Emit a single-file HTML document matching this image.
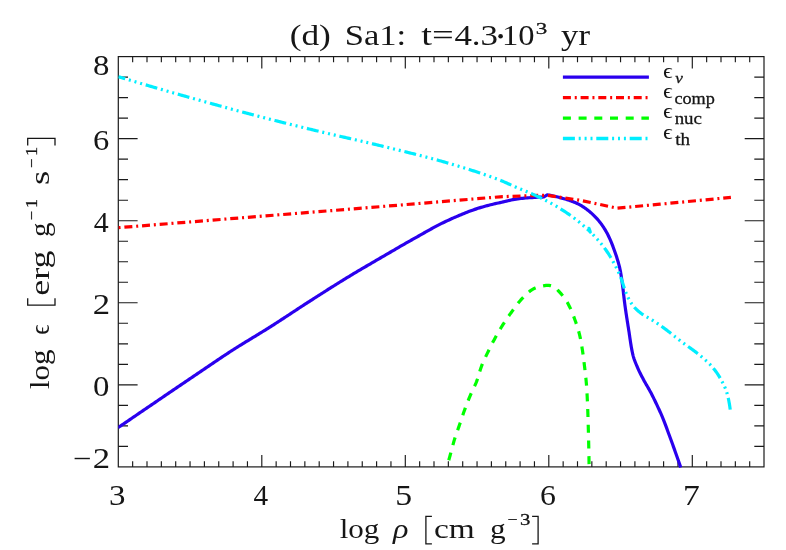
<!DOCTYPE html>
<html><head><meta charset="utf-8"><title>chart</title>
<style>
html,body{margin:0;padding:0;background:#fff;}
body{width:786px;height:550px;overflow:hidden;}
svg{display:block;will-change:transform;}
text{font-family:"Liberation Serif",serif;fill:#161616;}
</style></head><body>
<svg width="786" height="550" viewBox="0 0 786 550">
<rect x="0" y="0" width="786" height="550" fill="#ffffff"/>
<defs><clipPath id="clip"><rect x="118.30" y="56.60" width="645.70" height="411.80"/></clipPath></defs>

<path d="M132.65 466.90 v-5.60 M132.65 56.60 v5.60 M147.00 466.90 v-5.60 M147.00 56.60 v5.60 M161.35 466.90 v-5.60 M161.35 56.60 v5.60 M175.70 466.90 v-5.60 M175.70 56.60 v5.60 M190.05 466.90 v-5.60 M190.05 56.60 v5.60 M204.40 466.90 v-5.60 M204.40 56.60 v5.60 M218.75 466.90 v-5.60 M218.75 56.60 v5.60 M233.10 466.90 v-5.60 M233.10 56.60 v5.60 M247.45 466.90 v-5.60 M247.45 56.60 v5.60 M261.80 466.90 v-12.00 M261.80 56.60 v12.00 M276.15 466.90 v-5.60 M276.15 56.60 v5.60 M290.50 466.90 v-5.60 M290.50 56.60 v5.60 M304.85 466.90 v-5.60 M304.85 56.60 v5.60 M319.20 466.90 v-5.60 M319.20 56.60 v5.60 M333.55 466.90 v-5.60 M333.55 56.60 v5.60 M347.90 466.90 v-5.60 M347.90 56.60 v5.60 M362.25 466.90 v-5.60 M362.25 56.60 v5.60 M376.60 466.90 v-5.60 M376.60 56.60 v5.60 M390.95 466.90 v-5.60 M390.95 56.60 v5.60 M405.30 466.90 v-12.00 M405.30 56.60 v12.00 M419.65 466.90 v-5.60 M419.65 56.60 v5.60 M434.00 466.90 v-5.60 M434.00 56.60 v5.60 M448.35 466.90 v-5.60 M448.35 56.60 v5.60 M462.70 466.90 v-5.60 M462.70 56.60 v5.60 M477.05 466.90 v-5.60 M477.05 56.60 v5.60 M491.40 466.90 v-5.60 M491.40 56.60 v5.60 M505.75 466.90 v-5.60 M505.75 56.60 v5.60 M520.10 466.90 v-5.60 M520.10 56.60 v5.60 M534.45 466.90 v-5.60 M534.45 56.60 v5.60 M548.80 466.90 v-12.00 M548.80 56.60 v12.00 M563.15 466.90 v-5.60 M563.15 56.60 v5.60 M577.50 466.90 v-5.60 M577.50 56.60 v5.60 M591.85 466.90 v-5.60 M591.85 56.60 v5.60 M606.20 466.90 v-5.60 M606.20 56.60 v5.60 M620.55 466.90 v-5.60 M620.55 56.60 v5.60 M634.90 466.90 v-5.60 M634.90 56.60 v5.60 M649.25 466.90 v-5.60 M649.25 56.60 v5.60 M663.60 466.90 v-5.60 M663.60 56.60 v5.60 M677.95 466.90 v-5.60 M677.95 56.60 v5.60 M692.30 466.90 v-12.00 M692.30 56.60 v12.00 M706.65 466.90 v-5.60 M706.65 56.60 v5.60 M721.00 466.90 v-5.60 M721.00 56.60 v5.60 M735.35 466.90 v-5.60 M735.35 56.60 v5.60 M749.70 466.90 v-5.60 M749.70 56.60 v5.60 M118.30 446.38 h9.70 M764.00 446.38 h-9.70 M118.30 425.87 h9.70 M764.00 425.87 h-9.70 M118.30 405.35 h9.70 M764.00 405.35 h-9.70 M118.30 384.84 h19.30 M764.00 384.84 h-19.30 M118.30 364.32 h9.70 M764.00 364.32 h-9.70 M118.30 343.81 h9.70 M764.00 343.81 h-9.70 M118.30 323.29 h9.70 M764.00 323.29 h-9.70 M118.30 302.78 h19.30 M764.00 302.78 h-19.30 M118.30 282.26 h9.70 M764.00 282.26 h-9.70 M118.30 261.75 h9.70 M764.00 261.75 h-9.70 M118.30 241.23 h9.70 M764.00 241.23 h-9.70 M118.30 220.72 h19.30 M764.00 220.72 h-19.30 M118.30 200.20 h9.70 M764.00 200.20 h-9.70 M118.30 179.69 h9.70 M764.00 179.69 h-9.70 M118.30 159.17 h9.70 M764.00 159.17 h-9.70 M118.30 138.66 h19.30 M764.00 138.66 h-19.30 M118.30 118.14 h9.70 M764.00 118.14 h-9.70 M118.30 97.63 h9.70 M764.00 97.63 h-9.70 M118.30 77.11 h9.70 M764.00 77.11 h-9.70" stroke="#1a1a1a" stroke-width="1.15" fill="none"/>
<rect x="118.30" y="56.60" width="645.70" height="410.30" fill="none" stroke="#1a1a1a" stroke-width="1.2"/>
<g clip-path="url(#clip)" fill="none" stroke-width="3.2" stroke-linejoin="round">
<path d="M118.00 427.70 L119.35 426.78 L120.70 425.85 L122.05 424.93 L123.40 424.01 L124.76 423.08 L126.11 422.16 L127.46 421.24 L128.81 420.32 L130.16 419.39 L131.51 418.47 L132.86 417.55 L134.22 416.63 L135.57 415.71 L136.92 414.78 L138.27 413.86 L139.62 412.94 L140.98 412.02 L142.33 411.10 L143.68 410.18 L145.03 409.25 L146.39 408.33 L147.74 407.41 L149.09 406.49 L150.44 405.57 L151.80 404.65 L153.15 403.73 L154.50 402.81 L155.85 401.89 L157.21 400.97 L158.56 400.05 L159.91 399.13 L161.26 398.21 L162.62 397.28 L163.97 396.36 L165.32 395.44 L166.68 394.52 L168.03 393.60 L169.38 392.68 L170.74 391.76 L172.09 390.84 L173.44 389.92 L174.80 389.00 L176.15 388.09 L177.50 387.17 L178.86 386.25 L180.21 385.33 L181.57 384.41 L182.92 383.49 L184.28 382.57 L185.63 381.66 L186.99 380.74 L188.34 379.82 L189.70 378.91 L191.05 377.99 L192.41 377.08 L193.77 376.16 L195.12 375.25 L196.48 374.33 L197.83 373.41 L199.19 372.49 L200.54 371.57 L201.90 370.66 L203.25 369.74 L204.60 368.82 L205.96 367.90 L207.31 366.98 L208.67 366.06 L210.02 365.14 L211.37 364.22 L212.73 363.30 L214.09 362.39 L215.44 361.47 L216.80 360.56 L218.16 359.64 L219.52 358.73 L220.88 357.82 L222.24 356.92 L223.60 356.01 L224.97 355.11 L226.33 354.21 L227.70 353.31 L229.07 352.42 L230.44 351.53 L231.82 350.64 L233.19 349.76 L234.57 348.88 L235.95 348.00 L237.34 347.13 L238.72 346.26 L240.11 345.39 L241.50 344.53 L242.90 343.67 L244.29 342.82 L245.68 341.96 L247.08 341.11 L248.48 340.26 L249.88 339.41 L251.28 338.55 L252.67 337.70 L254.07 336.86 L255.47 336.01 L256.87 335.15 L258.27 334.30 L259.67 333.45 L261.06 332.60 L262.46 331.74 L263.85 330.88 L265.24 330.02 L266.63 329.16 L268.02 328.29 L269.40 327.42 L270.79 326.55 L272.17 325.67 L273.55 324.79 L274.92 323.90 L276.30 323.02 L277.67 322.13 L279.05 321.24 L280.42 320.35 L281.79 319.45 L283.16 318.56 L284.53 317.66 L285.90 316.77 L287.26 315.87 L288.63 314.97 L290.00 314.07 L291.37 313.17 L292.73 312.27 L294.10 311.37 L295.47 310.47 L296.84 309.57 L298.20 308.68 L299.57 307.78 L300.94 306.89 L302.31 305.99 L303.69 305.10 L305.06 304.21 L306.43 303.32 L307.81 302.44 L309.19 301.55 L310.56 300.67 L311.94 299.79 L313.32 298.90 L314.70 298.02 L316.08 297.14 L317.45 296.26 L318.83 295.37 L320.21 294.49 L321.59 293.61 L322.97 292.73 L324.35 291.85 L325.73 290.98 L327.11 290.10 L328.50 289.22 L329.88 288.35 L331.26 287.47 L332.65 286.60 L334.03 285.73 L335.42 284.86 L336.81 283.99 L338.19 283.13 L339.58 282.26 L340.97 281.40 L342.37 280.54 L343.76 279.68 L345.15 278.83 L346.55 277.97 L347.95 277.12 L349.35 276.28 L350.75 275.43 L352.15 274.59 L353.55 273.74 L354.95 272.90 L356.36 272.07 L357.77 271.23 L359.17 270.40 L360.58 269.56 L361.99 268.73 L363.40 267.90 L364.81 267.08 L366.23 266.25 L367.64 265.42 L369.05 264.60 L370.47 263.77 L371.88 262.95 L373.29 262.12 L374.71 261.30 L376.12 260.48 L377.54 259.66 L378.95 258.83 L380.37 258.01 L381.78 257.19 L383.20 256.37 L384.61 255.54 L386.03 254.72 L387.44 253.89 L388.85 253.07 L390.27 252.25 L391.68 251.42 L393.09 250.60 L394.51 249.77 L395.92 248.95 L397.34 248.12 L398.75 247.30 L400.17 246.48 L401.58 245.66 L403.00 244.85 L404.42 244.03 L405.84 243.22 L407.26 242.41 L408.68 241.60 L410.11 240.79 L411.53 239.99 L412.96 239.19 L414.39 238.39 L415.82 237.59 L417.24 236.78 L418.67 235.98 L420.09 235.17 L421.52 234.36 L422.95 233.55 L424.37 232.74 L425.80 231.93 L427.23 231.13 L428.66 230.33 L430.09 229.53 L431.53 228.74 L432.97 227.95 L434.41 227.17 L435.85 226.40 L437.30 225.64 L438.75 224.89 L440.20 224.14 L441.66 223.41 L443.13 222.69 L444.60 221.98 L446.07 221.29 L447.55 220.61 L449.03 219.93 L450.52 219.26 L452.01 218.58 L453.51 217.91 L455.01 217.25 L456.51 216.59 L458.02 215.94 L459.53 215.30 L461.04 214.66 L462.56 214.03 L464.08 213.41 L465.61 212.80 L467.14 212.20 L468.67 211.61 L470.20 211.03 L471.74 210.47 L473.28 209.92 L474.82 209.38 L476.37 208.86 L477.92 208.35 L479.47 207.86 L481.03 207.39 L482.59 206.93 L484.16 206.48 L485.74 206.05 L487.32 205.63 L488.91 205.22 L490.50 204.82 L492.09 204.43 L493.69 204.05 L495.29 203.68 L496.88 203.31 L498.48 202.94 L500.08 202.58 L501.67 202.22 L503.27 201.84 L504.86 201.47 L506.46 201.09 L508.06 200.72 L509.66 200.35 L511.27 200.01 L512.87 199.67 L514.48 199.37 L516.09 199.08 L517.70 198.83 L519.32 198.62 L520.94 198.45 L522.56 198.29 L524.18 198.14 L525.81 198.00 L527.44 197.87 L529.08 197.75 L530.71 197.63 L532.35 197.53 L533.98 197.43 L535.62 197.34 L537.26 197.25 L538.89 197.18 L540.53 197.11 L542.16 197.05 L543.80 197.00 L547.20 194.80 L548.26 194.99 L549.32 195.18 L550.38 195.39 L551.44 195.60 L552.49 195.82 L553.54 196.05 L554.59 196.29 L555.64 196.53 L556.68 196.79 L557.73 197.04 L558.77 197.31 L559.80 197.58 L560.84 197.86 L561.87 198.14 L562.91 198.43 L563.95 198.72 L564.99 199.03 L566.03 199.34 L567.07 199.66 L568.11 199.99 L569.14 200.33 L570.17 200.68 L571.19 201.04 L572.20 201.41 L573.21 201.80 L574.20 202.19 L575.18 202.60 L576.15 203.02 L577.11 203.46 L578.05 203.91 L578.99 204.40 L579.92 204.90 L580.85 205.43 L581.78 205.99 L582.70 206.56 L583.62 207.15 L584.52 207.77 L585.42 208.40 L586.31 209.04 L587.19 209.70 L588.06 210.37 L588.91 211.06 L589.75 211.75 L590.58 212.45 L591.39 213.16 L592.18 213.87 L592.96 214.59 L593.71 215.31 L594.46 216.04 L595.20 216.80 L595.93 217.57 L596.66 218.36 L597.38 219.17 L598.08 219.99 L598.78 220.82 L599.47 221.67 L600.15 222.53 L600.81 223.40 L601.46 224.28 L602.10 225.17 L602.72 226.06 L603.33 226.96 L603.93 227.87 L604.50 228.77 L605.07 229.68 L605.61 230.60 L606.13 231.51 L606.65 232.43 L607.15 233.37 L607.64 234.31 L608.12 235.27 L608.59 236.24 L609.06 237.21 L609.51 238.19 L609.95 239.18 L610.39 240.17 L610.81 241.17 L611.23 242.17 L611.64 243.18 L612.04 244.18 L612.43 245.19 L612.82 246.20 L613.20 247.21 L613.57 248.22 L613.94 249.23 L614.30 250.23 L614.66 251.24 L615.02 252.26 L615.37 253.27 L615.72 254.29 L616.07 255.31 L616.41 256.33 L616.75 257.36 L617.08 258.39 L617.40 259.42 L617.72 260.45 L618.02 261.48 L618.32 262.52 L618.61 263.56 L618.89 264.60 L619.16 265.64 L619.42 266.68 L619.67 267.72 L619.90 268.77 L620.12 269.81 L620.33 270.86 L620.53 271.91 L620.72 272.97 L620.90 274.03 L621.08 275.09 L621.25 276.16 L621.41 277.22 L621.57 278.29 L621.72 279.35 L621.88 280.42 L622.03 281.48 L622.18 282.55 L622.32 283.61 L622.46 284.68 L622.60 285.74 L622.74 286.81 L622.87 287.87 L622.99 288.94 L623.12 290.01 L623.25 291.08 L623.37 292.15 L623.49 293.21 L623.61 294.28 L623.73 295.35 L623.86 296.42 L623.98 297.49 L624.11 298.55 L624.23 299.62 L624.36 300.69 L624.49 301.76 L624.63 302.82 L624.77 303.89 L624.91 304.95 L625.05 306.02 L625.20 307.08 L625.35 308.15 L625.50 309.21 L625.65 310.27 L625.81 311.34 L625.97 312.40 L626.12 313.46 L626.28 314.53 L626.45 315.59 L626.61 316.65 L626.77 317.71 L626.94 318.78 L627.10 319.84 L627.27 320.90 L627.44 321.96 L627.60 323.03 L627.77 324.09 L627.94 325.15 L628.11 326.21 L628.28 327.27 L628.45 328.33 L628.62 329.39 L628.79 330.46 L628.95 331.52 L629.12 332.58 L629.28 333.65 L629.43 334.72 L629.59 335.79 L629.74 336.85 L629.90 337.92 L630.05 338.99 L630.21 340.06 L630.37 341.13 L630.53 342.20 L630.70 343.26 L630.86 344.33 L631.04 345.39 L631.22 346.45 L631.40 347.51 L631.59 348.56 L631.79 349.62 L631.99 350.67 L632.21 351.71 L632.43 352.76 L632.66 353.80 L632.91 354.83 L633.17 355.86 L633.46 356.89 L633.78 357.91 L634.11 358.94 L634.47 359.95 L634.84 360.97 L635.22 361.98 L635.62 362.99 L636.03 363.99 L636.44 364.99 L636.85 365.98 L637.26 366.97 L637.68 367.96 L638.11 368.94 L638.56 369.92 L639.01 370.89 L639.48 371.86 L639.96 372.82 L640.44 373.78 L640.94 374.74 L641.43 375.70 L641.93 376.65 L642.44 377.60 L642.94 378.55 L643.44 379.50 L643.95 380.45 L644.46 381.39 L644.99 382.33 L645.52 383.27 L646.05 384.20 L646.59 385.13 L647.13 386.06 L647.68 386.99 L648.22 387.92 L648.75 388.85 L649.28 389.79 L649.80 390.73 L650.32 391.67 L650.82 392.62 L651.32 393.57 L651.81 394.52 L652.30 395.48 L652.79 396.44 L653.27 397.40 L653.75 398.37 L654.22 399.33 L654.69 400.30 L655.16 401.26 L655.63 402.23 L656.09 403.20 L656.55 404.17 L657.01 405.15 L657.47 406.12 L657.92 407.09 L658.38 408.07 L658.83 409.04 L659.28 410.02 L659.73 411.00 L660.17 411.98 L660.61 412.96 L661.04 413.94 L661.47 414.93 L661.89 415.92 L662.30 416.91 L662.71 417.90 L663.12 418.90 L663.52 419.89 L663.91 420.89 L664.30 421.89 L664.69 422.89 L665.07 423.90 L665.46 424.90 L665.84 425.91 L666.21 426.92 L666.59 427.93 L666.96 428.93 L667.33 429.94 L667.70 430.95 L668.07 431.96 L668.44 432.97 L668.81 433.98 L669.19 434.99 L669.56 436.00 L669.93 437.01 L670.30 438.02 L670.67 439.02 L671.04 440.03 L671.41 441.04 L671.77 442.05 L672.14 443.06 L672.51 444.07 L672.87 445.09 L673.24 446.10 L673.60 447.11 L673.96 448.12 L674.33 449.13 L674.69 450.14 L675.05 451.16 L675.41 452.17 L675.77 453.18 L676.13 454.19 L676.48 455.21 L676.84 456.22 L677.20 457.24 L677.55 458.25 L677.90 459.27 L678.26 460.28 L678.61 461.30 L678.96 462.31 L679.31 463.33 L679.66 464.35 L680.01 465.36 L680.35 466.38 L680.70 467.40" stroke="#2a00ee"/>
<path d="M118.30 227.70 L380.00 206.70 L500.00 196.80 L530.00 195.60 L547.20 195.30 L581.40 200.50 L617.20 208.20 L660.00 204.20 L730.90 197.40" stroke="#ff0000" stroke-dasharray="8 3.85 2 3.85" stroke-dashoffset="11.6"/>
<path d="M446.70 467.40 L447.08 466.08 L447.46 464.76 L447.84 463.44 L448.22 462.12 L448.60 460.80 L448.97 459.47 L449.34 458.15 L449.72 456.83 L450.09 455.51 L450.45 454.18 L450.81 452.86 L451.17 451.53 L451.52 450.20 L451.87 448.87 L452.22 447.54 L452.57 446.21 L452.93 444.88 L453.30 443.56 L453.67 442.24 L454.05 440.92 L454.45 439.61 L454.86 438.30 L455.29 436.99 L455.72 435.69 L456.17 434.39 L456.62 433.09 L457.08 431.79 L457.53 430.50 L457.99 429.20 L458.45 427.91 L458.91 426.61 L459.36 425.31 L459.80 424.01 L460.24 422.71 L460.68 421.41 L461.12 420.10 L461.55 418.80 L461.99 417.50 L462.43 416.19 L462.87 414.89 L463.32 413.59 L463.77 412.30 L464.23 411.00 L464.70 409.71 L465.17 408.42 L465.65 407.13 L466.14 405.85 L466.63 404.57 L467.12 403.28 L467.63 402.00 L468.13 400.73 L468.65 399.45 L469.16 398.18 L469.69 396.91 L470.22 395.64 L470.75 394.38 L471.31 393.12 L471.89 391.87 L472.48 390.63 L473.07 389.38 L473.66 388.14 L474.25 386.90 L474.83 385.65 L475.39 384.40 L475.93 383.14 L476.44 381.86 L476.91 380.58 L477.37 379.29 L477.80 377.98 L478.21 376.67 L478.62 375.36 L479.02 374.04 L479.41 372.72 L479.81 371.40 L480.22 370.08 L480.64 368.77 L481.08 367.47 L481.54 366.18 L482.03 364.91 L482.54 363.64 L483.08 362.37 L483.63 361.11 L484.19 359.86 L484.77 358.61 L485.36 357.37 L485.95 356.12 L486.55 354.89 L487.16 353.65 L487.76 352.41 L488.36 351.18 L488.96 349.94 L489.57 348.71 L490.18 347.48 L490.79 346.25 L491.41 345.02 L492.04 343.80 L492.67 342.58 L493.31 341.36 L493.96 340.15 L494.61 338.94 L495.26 337.73 L495.93 336.53 L496.60 335.33 L497.27 334.13 L497.95 332.94 L498.64 331.75 L499.33 330.56 L500.04 329.38 L500.74 328.20 L501.46 327.02 L502.18 325.85 L502.91 324.69 L503.64 323.53 L504.39 322.38 L505.14 321.23 L505.90 320.09 L506.67 318.95 L507.45 317.81 L508.24 316.68 L509.03 315.56 L509.82 314.44 L510.63 313.32 L511.44 312.21 L512.25 311.11 L513.06 310.00 L513.88 308.89 L514.69 307.77 L515.51 306.65 L516.34 305.54 L517.17 304.44 L518.01 303.35 L518.87 302.27 L519.75 301.21 L520.64 300.18 L521.56 299.17 L522.49 298.20 L523.45 297.21 L524.43 296.21 L525.42 295.20 L526.43 294.21 L527.47 293.24 L528.52 292.30 L529.60 291.40 L530.70 290.57 L531.82 289.80 L532.96 289.12 L534.13 288.53 L535.35 288.01 L536.63 287.53 L537.95 287.10 L539.30 286.71 L540.66 286.38 L542.00 286.10 L543.35 285.84 L544.72 285.60 L546.09 285.41 L547.45 285.31 L548.82 285.35 L550.21 285.57 L551.58 285.93 L552.88 286.37 L554.06 286.86 L555.16 287.58 L556.21 288.49 L557.21 289.52 L558.18 290.59 L559.12 291.62 L560.05 292.62 L560.97 293.65 L561.87 294.70 L562.75 295.77 L563.61 296.87 L564.44 297.98 L565.24 299.10 L566.00 300.24 L566.72 301.39 L567.40 302.56 L568.05 303.74 L568.69 304.95 L569.31 306.17 L569.91 307.41 L570.49 308.67 L571.06 309.93 L571.61 311.20 L572.14 312.48 L572.66 313.77 L573.17 315.06 L573.66 316.35 L574.14 317.64 L574.61 318.93 L575.07 320.21 L575.53 321.51 L575.98 322.81 L576.42 324.11 L576.86 325.42 L577.28 326.73 L577.70 328.05 L578.10 329.37 L578.48 330.69 L578.86 332.02 L579.21 333.35 L579.55 334.68 L579.87 336.01 L580.16 337.35 L580.44 338.69 L580.71 340.03 L580.96 341.37 L581.21 342.72 L581.45 344.07 L581.68 345.42 L581.90 346.78 L582.11 348.14 L582.32 349.50 L582.53 350.86 L582.72 352.23 L582.91 353.59 L583.10 354.96 L583.28 356.32 L583.46 357.69 L583.63 359.05 L583.81 360.42 L583.98 361.78 L584.14 363.15 L584.31 364.51 L584.47 365.87 L584.64 367.24 L584.80 368.60 L584.97 369.97 L585.13 371.33 L585.28 372.70 L585.44 374.06 L585.59 375.43 L585.73 376.80 L585.87 378.17 L586.01 379.54 L586.14 380.90 L586.26 382.27 L586.38 383.64 L586.49 385.01 L586.60 386.38 L586.69 387.75 L586.78 389.12 L586.86 390.49 L586.93 391.86 L587.01 393.23 L587.08 394.60 L587.15 395.97 L587.22 397.34 L587.28 398.72 L587.35 400.09 L587.41 401.46 L587.47 402.83 L587.53 404.21 L587.58 405.58 L587.64 406.95 L587.69 408.33 L587.74 409.70 L587.79 411.08 L587.84 412.45 L587.89 413.82 L587.93 415.20 L587.98 416.57 L588.02 417.95 L588.06 419.32 L588.10 420.69 L588.14 422.07 L588.18 423.44 L588.22 424.81 L588.26 426.19 L588.30 427.56 L588.33 428.93 L588.37 430.31 L588.40 431.68 L588.44 433.06 L588.48 434.43 L588.51 435.80 L588.54 437.18 L588.58 438.55 L588.61 439.92 L588.64 441.30 L588.67 442.67 L588.70 444.04 L588.74 445.42 L588.76 446.79 L588.79 448.16 L588.82 449.54 L588.85 450.91 L588.88 452.29 L588.90 453.66 L588.93 455.03 L588.95 456.41 L588.97 457.78 L588.99 459.16 L589.01 460.53 L589.03 461.90 L589.05 463.28 L589.07 464.65 L589.09 466.03 L589.10 467.40" stroke="#00ff00" stroke-dasharray="8 7.7" stroke-dashoffset="8.3"/>
<path d="M118.30 76.70 L119.71 77.13 L121.13 77.55 L122.54 77.98 L123.96 78.40 L125.37 78.82 L126.78 79.25 L128.20 79.67 L129.61 80.09 L131.03 80.51 L132.44 80.93 L133.86 81.36 L135.27 81.78 L136.69 82.20 L138.10 82.61 L139.52 83.03 L140.94 83.45 L142.35 83.87 L143.77 84.29 L145.18 84.70 L146.60 85.12 L148.02 85.53 L149.43 85.95 L150.85 86.36 L152.27 86.78 L153.68 87.19 L155.10 87.61 L156.52 88.02 L157.94 88.43 L159.35 88.84 L160.77 89.25 L162.19 89.66 L163.61 90.07 L165.03 90.48 L166.44 90.89 L167.86 91.30 L169.28 91.71 L170.70 92.11 L172.12 92.52 L173.54 92.93 L174.96 93.33 L176.38 93.74 L177.80 94.14 L179.22 94.55 L180.64 94.95 L182.06 95.35 L183.48 95.76 L184.90 96.16 L186.32 96.56 L187.74 96.96 L189.16 97.36 L190.58 97.76 L192.00 98.16 L193.42 98.56 L194.84 98.96 L196.26 99.36 L197.68 99.76 L199.10 100.16 L200.53 100.55 L201.95 100.95 L203.37 101.35 L204.79 101.74 L206.21 102.14 L207.64 102.53 L209.06 102.93 L210.48 103.32 L211.90 103.72 L213.33 104.11 L214.75 104.50 L216.17 104.90 L217.60 105.29 L219.02 105.68 L220.44 106.07 L221.87 106.46 L223.29 106.85 L224.72 107.24 L226.14 107.63 L227.56 108.02 L228.99 108.41 L230.41 108.79 L231.84 109.18 L233.26 109.56 L234.69 109.95 L236.11 110.33 L237.54 110.72 L238.96 111.10 L240.39 111.48 L241.82 111.86 L243.24 112.25 L244.67 112.63 L246.10 113.01 L247.52 113.38 L248.95 113.76 L250.38 114.14 L251.80 114.52 L253.23 114.89 L254.66 115.27 L256.09 115.64 L257.51 116.01 L258.94 116.39 L260.37 116.76 L261.80 117.13 L263.23 117.50 L264.66 117.87 L266.09 118.24 L267.52 118.60 L268.95 118.97 L270.38 119.34 L271.81 119.70 L273.24 120.07 L274.67 120.43 L276.10 120.79 L277.53 121.15 L278.96 121.52 L280.39 121.88 L281.82 122.24 L283.26 122.59 L284.69 122.95 L286.12 123.31 L287.55 123.67 L288.99 124.02 L290.42 124.38 L291.85 124.73 L293.28 125.09 L294.72 125.44 L296.15 125.80 L297.58 126.15 L299.02 126.50 L300.45 126.85 L301.89 127.20 L303.32 127.56 L304.75 127.91 L306.19 128.26 L307.62 128.60 L309.06 128.95 L310.49 129.30 L311.93 129.65 L313.36 130.00 L314.80 130.34 L316.23 130.69 L317.66 131.04 L319.10 131.38 L320.53 131.73 L321.97 132.07 L323.41 132.42 L324.84 132.76 L326.28 133.10 L327.72 133.43 L329.15 133.77 L330.59 134.11 L332.03 134.44 L333.47 134.78 L334.90 135.11 L336.34 135.44 L337.78 135.77 L339.22 136.11 L340.66 136.44 L342.10 136.77 L343.54 137.10 L344.98 137.43 L346.41 137.76 L347.85 138.08 L349.29 138.41 L350.73 138.74 L352.17 139.07 L353.61 139.40 L355.05 139.73 L356.49 140.06 L357.93 140.39 L359.36 140.72 L360.80 141.06 L362.24 141.39 L363.68 141.72 L365.12 142.06 L366.55 142.39 L367.99 142.73 L369.43 143.07 L370.87 143.41 L372.30 143.75 L373.74 144.09 L375.17 144.43 L376.61 144.78 L378.04 145.12 L379.48 145.47 L380.91 145.82 L382.34 146.17 L383.78 146.52 L385.21 146.87 L386.65 147.22 L388.08 147.57 L389.52 147.92 L390.95 148.27 L392.39 148.61 L393.82 148.96 L395.26 149.31 L396.69 149.66 L398.13 150.01 L399.56 150.36 L401.00 150.71 L402.43 151.07 L403.87 151.42 L405.30 151.77 L406.74 152.13 L408.17 152.48 L409.60 152.84 L411.04 153.20 L412.47 153.55 L413.90 153.91 L415.34 154.27 L416.77 154.64 L418.20 155.00 L419.63 155.37 L421.06 155.73 L422.49 156.10 L423.92 156.47 L425.35 156.84 L426.77 157.22 L428.20 157.59 L429.63 157.97 L431.05 158.35 L432.48 158.74 L433.90 159.12 L435.33 159.51 L436.75 159.90 L438.17 160.29 L439.59 160.68 L441.01 161.08 L442.43 161.48 L443.85 161.88 L445.27 162.29 L446.68 162.70 L448.10 163.11 L449.52 163.52 L450.93 163.93 L452.35 164.35 L453.76 164.77 L455.18 165.19 L456.59 165.61 L458.01 166.03 L459.42 166.46 L460.84 166.89 L462.25 167.32 L463.67 167.76 L465.08 168.19 L466.49 168.63 L467.90 169.07 L469.31 169.52 L470.72 169.97 L472.13 170.42 L473.54 170.87 L474.94 171.33 L476.35 171.79 L477.75 172.25 L479.15 172.72 L480.55 173.19 L481.95 173.67 L483.35 174.14 L484.75 174.63 L486.14 175.11 L487.54 175.60 L488.93 176.09 L490.32 176.59 L491.70 177.09 L493.09 177.60 L494.47 178.11 L495.85 178.62 L497.23 179.14 L498.61 179.66 L499.98 180.19 L501.35 180.73 L502.71 181.30 L504.07 181.88 L505.42 182.47 L506.77 183.07 L508.12 183.68 L509.46 184.29 L510.81 184.90 L512.16 185.50 L513.51 186.09 L514.87 186.68 L516.23 187.26 L517.59 187.83 L518.95 188.41 L520.31 188.98 L521.68 189.55 L523.04 190.11 L524.41 190.68 L525.77 191.25 L527.13 191.82 L528.49 192.40 L529.85 192.98 L531.21 193.56 L532.56 194.15 L533.91 194.74 L535.26 195.35 L536.60 195.96 L537.94 196.58 L539.27 197.21 L540.59 197.85 L541.91 198.50 L543.23 199.16 L544.55 199.82 L545.87 200.50 L547.18 201.18 L548.49 201.87 L549.79 202.57 L551.09 203.28 L552.39 204.00 L553.68 204.73 L554.96 205.46 L556.23 206.21 L557.50 206.96 L558.77 207.72 L560.02 208.49 L561.27 209.27 L562.51 210.06 L563.74 210.86 L564.98 211.67 L566.21 212.49 L567.44 213.32 L568.66 214.16 L569.88 215.01 L571.09 215.87 L572.29 216.74 L573.48 217.62 L574.67 218.50 L575.84 219.40 L577.01 220.31 L578.16 221.23 L579.31 222.15 L580.44 223.09 L581.56 224.03 L582.67 224.99 L583.78 225.95 L584.88 226.93 L585.98 227.92 L587.07 228.92 L588.16 229.93 L589.24 230.95 L590.31 231.98 L589.01 228.28 L590.31 231.98 L591.38 233.02 L592.43 234.07 L593.47 235.13 L594.50 236.20 L595.52 237.28 L596.53 238.37 L597.52 239.47 L598.50 240.57 L599.46 241.68 L600.41 242.80 L601.34 243.93 L602.25 245.07 L603.15 246.23 L604.04 247.40 L604.91 248.59 L605.77 249.80 L606.62 251.02 L607.45 252.25 L608.27 253.49 L609.07 254.74 L609.85 256.00 L610.62 257.26 L611.38 258.53 L612.11 259.80 L612.84 261.08 L613.55 262.36 L614.26 263.66 L614.95 264.97 L615.63 266.28 L616.30 267.61 L616.95 268.94 L617.59 270.27 L618.22 271.61 L618.83 272.96 L619.42 274.31 L620.00 275.66 L620.56 277.02 L621.08 278.40 L621.58 279.79 L622.06 281.19 L622.52 282.60 L622.98 284.01 L623.43 285.43 L623.88 286.84 L624.34 288.25 L624.82 289.65 L625.31 291.04 L625.83 292.42 L626.37 293.78 L626.95 295.12 L627.57 296.46 L628.21 297.80 L628.88 299.14 L629.59 300.46 L630.33 301.75 L631.10 303.01 L631.91 304.22 L632.76 305.38 L633.69 306.51 L634.67 307.62 L635.71 308.69 L636.80 309.73 L637.91 310.73 L639.03 311.69 L640.16 312.61 L641.33 313.48 L642.53 314.31 L643.76 315.11 L645.01 315.89 L646.28 316.64 L647.57 317.39 L648.87 318.12 L650.16 318.86 L651.45 319.61 L652.73 320.37 L653.99 321.14 L655.23 321.95 L656.45 322.77 L657.67 323.61 L658.88 324.45 L660.09 325.30 L661.29 326.15 L662.49 327.02 L663.69 327.88 L664.88 328.76 L666.06 329.64 L667.24 330.53 L668.41 331.42 L669.58 332.32 L670.74 333.23 L671.90 334.15 L673.06 335.06 L674.22 335.98 L675.37 336.90 L676.53 337.81 L677.69 338.73 L678.85 339.64 L680.02 340.55 L681.19 341.45 L682.36 342.35 L683.54 343.23 L684.73 344.10 L685.93 344.97 L687.13 345.83 L688.34 346.69 L689.54 347.55 L690.75 348.41 L691.95 349.27 L693.15 350.13 L694.34 351.01 L695.52 351.89 L696.69 352.79 L697.84 353.70 L698.99 354.62 L700.12 355.56 L701.25 356.51 L702.39 357.47 L703.52 358.43 L704.65 359.41 L705.76 360.40 L706.87 361.40 L707.95 362.41 L709.01 363.44 L710.05 364.49 L711.05 365.55 L712.03 366.64 L712.97 367.74 L713.89 368.88 L714.79 370.04 L715.68 371.23 L716.54 372.44 L717.38 373.67 L718.20 374.92 L718.99 376.17 L719.76 377.44 L720.50 378.72 L721.21 380.00 L721.91 381.29 L722.60 382.60 L723.27 383.93 L723.93 385.26 L724.56 386.61 L725.15 387.98 L725.71 389.35 L726.22 390.73 L726.67 392.12 L727.09 393.52 L727.48 394.93 L727.84 396.36 L728.19 397.81 L728.51 399.26 L728.81 400.71 L729.08 402.17 L729.34 403.62 L729.57 405.07 L729.79 406.53 L730.00 407.99 L730.19 409.46 L730.35 410.93 L730.50 412.40" stroke="#00eeff" stroke-dasharray="12 3.8 2 3.9 2 3.9 2 3.8" stroke-dashoffset="4.8"/>
</g>
<g fill="none" stroke-width="3.3">
<path d="M562.9 77.2 H648.9" stroke="#2a00ee"/>
<path d="M562.9 97.6 H648.9" stroke="#ff0000" stroke-dasharray="8 3.85 2 3.85"/>
<path d="M562.9 118.1 H648.9" stroke="#00ff00" stroke-dasharray="8 7.7"/>
<path d="M562.9 138.5 H648.9" stroke="#00eeff" stroke-dasharray="12 3.8 2 3.9 2 3.9 2 3.8"/>
</g>
<text x="663.00" y="77.50" font-size="20.5" textLength="9.60" lengthAdjust="spacingAndGlyphs">ϵ</text>
<text x="675.26" y="82.70" font-size="15.0" textLength="7.64" lengthAdjust="spacingAndGlyphs" font-style="italic" stroke="#161616" stroke-width="0.3">ν</text>
<text x="663.00" y="97.90" font-size="20.5" textLength="9.60" lengthAdjust="spacingAndGlyphs">ϵ</text>
<text x="674.41" y="103.60" font-size="16.5" textLength="40.51" lengthAdjust="spacingAndGlyphs" stroke="#161616" stroke-width="0.3">comp</text>
<text x="663.00" y="118.40" font-size="20.5" textLength="9.60" lengthAdjust="spacingAndGlyphs">ϵ</text>
<text x="674.67" y="124.10" font-size="16.5" textLength="27.32" lengthAdjust="spacingAndGlyphs" stroke="#161616" stroke-width="0.3">nuc</text>
<text x="663.00" y="138.80" font-size="20.5" textLength="9.60" lengthAdjust="spacingAndGlyphs">ϵ</text>
<text x="675.21" y="144.50" font-size="16.5" textLength="14.84" lengthAdjust="spacingAndGlyphs" stroke="#161616" stroke-width="0.3">th</text>
<text x="109.12" y="504.90" font-size="28.6" textLength="16.46" lengthAdjust="spacingAndGlyphs">3</text>
<text x="253.53" y="504.90" font-size="28.6" textLength="14.63" lengthAdjust="spacingAndGlyphs">4</text>
<text x="395.24" y="504.90" font-size="28.6" textLength="16.88" lengthAdjust="spacingAndGlyphs">5</text>
<text x="539.93" y="504.90" font-size="28.6" textLength="15.92" lengthAdjust="spacingAndGlyphs">6</text>
<text x="683.09" y="504.90" font-size="28.6" textLength="16.78" lengthAdjust="spacingAndGlyphs">7</text>
<text x="93.05" y="74.90" font-size="28.6" textLength="16.40" lengthAdjust="spacingAndGlyphs">8</text>
<text x="92.90" y="149.60" font-size="28.6" textLength="16.27" lengthAdjust="spacingAndGlyphs">6</text>
<text x="93.72" y="231.80" font-size="28.6" textLength="14.95" lengthAdjust="spacingAndGlyphs">4</text>
<text x="92.78" y="313.80" font-size="28.6" textLength="17.34" lengthAdjust="spacingAndGlyphs">2</text>
<text x="93.05" y="395.90" font-size="28.6" textLength="16.40" lengthAdjust="spacingAndGlyphs">0</text>
<text x="92.78" y="467.60" font-size="28.6" textLength="17.34" lengthAdjust="spacingAndGlyphs">2</text>
<text x="72.86" y="467.60" font-size="28.6" textLength="18.54" lengthAdjust="spacingAndGlyphs">−</text>
<text x="289.65" y="44.70" font-size="30" textLength="41.21" lengthAdjust="spacingAndGlyphs">(d)</text>
<text x="344.69" y="44.70" font-size="30" textLength="61.41" lengthAdjust="spacingAndGlyphs">Sa1:</text>
<text x="421.32" y="44.70" font-size="30" textLength="32.46" lengthAdjust="spacingAndGlyphs">t=</text>
<text x="454.42" y="44.70" font-size="30" textLength="43.65" lengthAdjust="spacingAndGlyphs">4.3</text>
<circle cx="500.6" cy="36.2" r="2.3" fill="#161616"/>
<text x="502.03" y="44.70" font-size="30" textLength="32.61" lengthAdjust="spacingAndGlyphs">10</text>
<text x="535.80" y="33.60" font-size="17.5" textLength="11.50" lengthAdjust="spacingAndGlyphs" stroke="#161616" stroke-width="0.3">3</text>
<text x="561.08" y="44.70" font-size="30" textLength="28.93" lengthAdjust="spacingAndGlyphs">yr</text>
<text x="339.68" y="537.80" font-size="27.5" textLength="39.71" lengthAdjust="spacingAndGlyphs">log</text>
<text x="393.02" y="537.80" font-size="27.5" textLength="15.46" lengthAdjust="spacingAndGlyphs" font-style="italic">ρ</text>
<path d="M431.90 516.40 H425.90 V543.80 H431.90" fill="none" stroke="#161616" stroke-width="1.3"/>
<text x="433.93" y="537.80" font-size="27.5" textLength="40.79" lengthAdjust="spacingAndGlyphs">cm</text>
<text x="490.06" y="537.80" font-size="27.5" textLength="15.64" lengthAdjust="spacingAndGlyphs">g</text>
<text x="507.62" y="525.30" font-size="16.5" textLength="9.94" lengthAdjust="spacingAndGlyphs" stroke="#161616" stroke-width="0.3">−</text>
<text x="519.90" y="525.30" font-size="16.5" textLength="10.41" lengthAdjust="spacingAndGlyphs" stroke="#161616" stroke-width="0.3">3</text>
<path d="M532.10 516.40 H538.10 V543.80 H532.10" fill="none" stroke="#161616" stroke-width="1.3"/>
<g transform="translate(49.2,388.5) rotate(-90)">
<text x="-0.62" y="0.00" font-size="27.5" textLength="39.71" lengthAdjust="spacingAndGlyphs">log</text>
<text x="53.72" y="0.00" font-size="27.5" textLength="10.42" lengthAdjust="spacingAndGlyphs">ϵ</text>
<path d="M90.30 -21.50 H83.30 V5.80 H90.30" fill="none" stroke="#161616" stroke-width="1.3"/>
<text x="92.71" y="0.00" font-size="27.5" textLength="45.36" lengthAdjust="spacingAndGlyphs">erg</text>
<text x="151.45" y="0.00" font-size="27.5" textLength="14.50" lengthAdjust="spacingAndGlyphs">g</text>
<text x="168.38" y="-12.60" font-size="16.5" textLength="9.33" lengthAdjust="spacingAndGlyphs" stroke="#161616" stroke-width="0.3">−</text>
<text x="180.43" y="-12.60" font-size="16.5" textLength="8.95" lengthAdjust="spacingAndGlyphs" stroke="#161616" stroke-width="0.3">1</text>
<text x="203.40" y="0.00" font-size="27.5" textLength="14.22" lengthAdjust="spacingAndGlyphs">s</text>
<text x="220.59" y="-12.60" font-size="16.5" textLength="9.21" lengthAdjust="spacingAndGlyphs" stroke="#161616" stroke-width="0.3">−</text>
<text x="232.50" y="-12.60" font-size="16.5" textLength="9.09" lengthAdjust="spacingAndGlyphs" stroke="#161616" stroke-width="0.3">1</text>
<path d="M243.00 -21.50 H250.10 V5.80 H243.00" fill="none" stroke="#161616" stroke-width="1.3"/>
</g>
</svg></body></html>
